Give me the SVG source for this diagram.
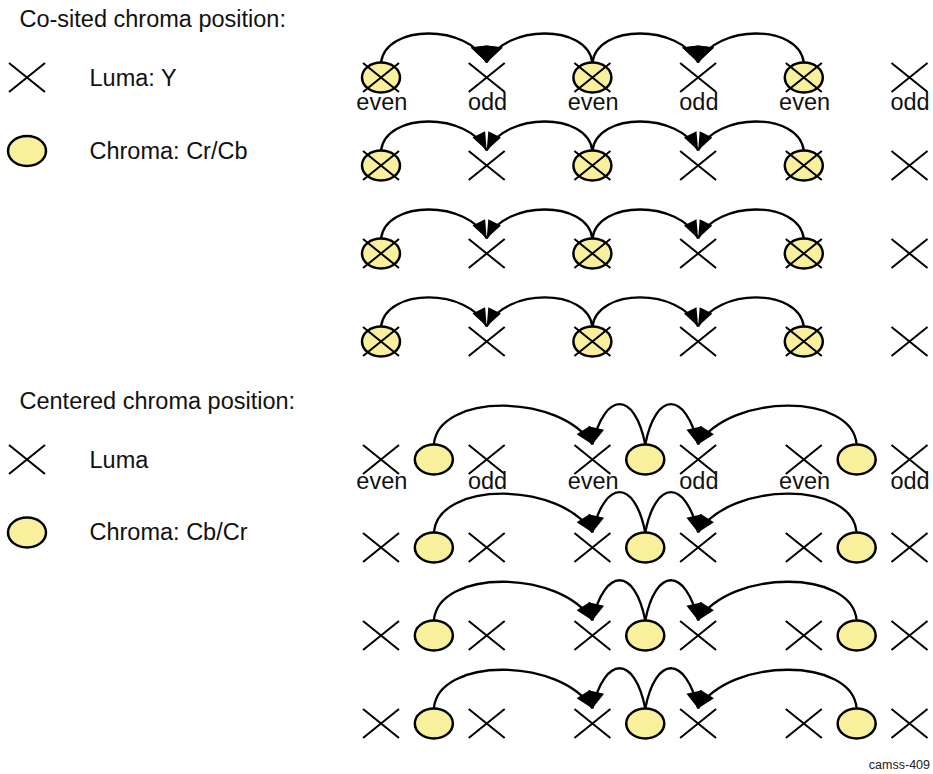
<svg xmlns="http://www.w3.org/2000/svg" width="933" height="774" viewBox="0 0 933 774">
<style>
.xs{fill:none;stroke:#000;stroke-width:2}
.cs{fill:#f9f09d;stroke:#000;stroke-width:2.5}
.arc{fill:none;stroke:#000;stroke-width:2.3}
.big{marker-end:url(#ahBig)}
.sm{marker-end:url(#ahS)}
.ce{marker-end:url(#ahC)}
text{font-family:"Liberation Sans",Arial,Helvetica,sans-serif;font-size:23.5px;fill:#111}
.lbl{text-anchor:middle}
.id{font-size:12.5px;text-anchor:end;fill:#222}
</style>
<defs>
<path id="xm" class="xs" d="M-18,-14.5 L18,14.5 M18,-14.5 L-18,14.5"/>
<ellipse id="cm" class="cs" cx="0" cy="0" rx="19" ry="15"/>
<marker id="ahBig" viewBox="-20 -20 40 40" markerWidth="40" markerHeight="40" refX="0" refY="0" orient="90" markerUnits="userSpaceOnUse"><path d="M0,0 L-15,-16 L-17,0 L-15,16 Z" fill="#000"/></marker>
<marker id="ahS" viewBox="-20 -20 40 40" markerWidth="40" markerHeight="40" refX="0" refY="0" orient="auto" markerUnits="userSpaceOnUse"><path d="M0,0 L-18,-7 L-18,7 Z" fill="#000"/></marker>
<marker id="ahC" viewBox="-20 -20 40 40" markerWidth="40" markerHeight="40" refX="0" refY="0" orient="auto" markerUnits="userSpaceOnUse"><path d="M0,0 L-17,-8 L-17,8 Z" fill="#000"/></marker>
</defs>

<g id="legend">
<text x="19.5" y="26.5">Co-sited chroma position:</text>
<g id="leg-luma1"><use href="#xm" x="27" y="77.5"/><text x="89.5" y="86">Luma: Y</text></g>
<g id="leg-chroma1"><use href="#cm" x="27" y="151"/><text x="89.5" y="158.5">Chroma: Cr/Cb</text></g>
<text x="19.5" y="408.5">Centered chroma position:</text>
<g id="leg-luma2"><use href="#xm" x="27" y="459.5"/><text x="89.5" y="467.5">Luma</text></g>
<g id="leg-chroma2"><use href="#cm" x="27" y="532.5"/><text x="89.5" y="540">Chroma: Cb/Cr</text></g>
</g>

<g id="connectors">
<path class="arc big" d="M381,62.5 C386,23.8 467.8,23.8 486.7,62.5"/>
<path class="arc big" d="M592.4,62.5 C587.4,23.8 505.6,23.8 486.7,62.5"/>
<path class="arc big" d="M592.4,62.5 C597.4,23.8 679.2,23.8 698.1,62.5"/>
<path class="arc big" d="M803.8,62.5 C798.8,23.8 717,23.8 698.1,62.5"/>
<path class="arc sm" d="M381,150.5 C386,111.8 467.8,111.8 486.7,150.5"/>
<path class="arc sm" d="M592.4,150.5 C587.4,111.8 505.6,111.8 486.7,150.5"/>
<path class="arc sm" d="M592.4,150.5 C597.4,111.8 679.2,111.8 698.1,150.5"/>
<path class="arc sm" d="M803.8,150.5 C798.8,111.8 717,111.8 698.1,150.5"/>
<path class="arc sm" d="M381,238.5 C386,199.8 467.8,199.8 486.7,238.5"/>
<path class="arc sm" d="M592.4,238.5 C587.4,199.8 505.6,199.8 486.7,238.5"/>
<path class="arc sm" d="M592.4,238.5 C597.4,199.8 679.2,199.8 698.1,238.5"/>
<path class="arc sm" d="M803.8,238.5 C798.8,199.8 717,199.8 698.1,238.5"/>
<path class="arc sm" d="M381,326.5 C386,287.8 467.8,287.8 486.7,326.5"/>
<path class="arc sm" d="M592.4,326.5 C587.4,287.8 505.6,287.8 486.7,326.5"/>
<path class="arc sm" d="M592.4,326.5 C597.4,287.8 679.2,287.8 698.1,326.5"/>
<path class="arc sm" d="M803.8,326.5 C798.8,287.8 717,287.8 698.1,326.5"/>
<path class="arc ce" d="M433.85,444.5 C437.85,392.8 560,392.8 592.4,444.5"/>
<path class="arc ce" d="M645.25,444.5 C634.75,390.8 604.9,390.8 592.4,444.5"/>
<path class="arc ce" d="M645.25,444.5 C655.75,390.8 685.6,390.8 698.1,444.5"/>
<path class="arc ce" d="M856.65,444.5 C852.65,392.8 730.5,392.8 698.1,444.5"/>
<path class="arc ce" d="M433.85,532.5 C437.85,480.8 560,480.8 592.4,532.5"/>
<path class="arc ce" d="M645.25,532.5 C634.75,478.8 604.9,478.8 592.4,532.5"/>
<path class="arc ce" d="M645.25,532.5 C655.75,478.8 685.6,478.8 698.1,532.5"/>
<path class="arc ce" d="M856.65,532.5 C852.65,480.8 730.5,480.8 698.1,532.5"/>
<path class="arc ce" d="M433.85,620.5 C437.85,568.8 560,568.8 592.4,620.5"/>
<path class="arc ce" d="M645.25,620.5 C634.75,566.8 604.9,566.8 592.4,620.5"/>
<path class="arc ce" d="M645.25,620.5 C655.75,566.8 685.6,566.8 698.1,620.5"/>
<path class="arc ce" d="M856.65,620.5 C852.65,568.8 730.5,568.8 698.1,620.5"/>
<path class="arc ce" d="M433.85,708.5 C437.85,656.8 560,656.8 592.4,708.5"/>
<path class="arc ce" d="M645.25,708.5 C634.75,654.8 604.9,654.8 592.4,708.5"/>
<path class="arc ce" d="M645.25,708.5 C655.75,654.8 685.6,654.8 698.1,708.5"/>
<path class="arc ce" d="M856.65,708.5 C852.65,656.8 730.5,656.8 698.1,708.5"/>
</g>

<g id="cosited">
<g id="cs1-0"><use href="#cm" x="381" y="77.5"/><use href="#xm" x="381" y="77.5"/></g>
<g id="cs1-1"><use href="#xm" x="486.7" y="77.5"/></g>
<g id="cs1-2"><use href="#cm" x="592.4" y="77.5"/><use href="#xm" x="592.4" y="77.5"/></g>
<g id="cs1-3"><use href="#xm" x="698.1" y="77.5"/></g>
<g id="cs1-4"><use href="#cm" x="803.8" y="77.5"/><use href="#xm" x="803.8" y="77.5"/></g>
<g id="cs1-5"><use href="#xm" x="909.5" y="77.5"/></g>
<g id="cs1-labels">
<text class="lbl" x="381.8" y="109.5">even</text>
<text class="lbl" x="487.5" y="109.5">odd</text>
<text class="lbl" x="593.2" y="109.5">even</text>
<text class="lbl" x="698.9" y="109.5">odd</text>
<text class="lbl" x="804.6" y="109.5">even</text>
<text class="lbl" x="910" y="109.5">odd</text>
</g>
<g id="cs2-0"><use href="#cm" x="381" y="165.5"/><use href="#xm" x="381" y="165.5"/></g>
<g id="cs2-1"><use href="#xm" x="486.7" y="165.5"/></g>
<g id="cs2-2"><use href="#cm" x="592.4" y="165.5"/><use href="#xm" x="592.4" y="165.5"/></g>
<g id="cs2-3"><use href="#xm" x="698.1" y="165.5"/></g>
<g id="cs2-4"><use href="#cm" x="803.8" y="165.5"/><use href="#xm" x="803.8" y="165.5"/></g>
<g id="cs2-5"><use href="#xm" x="909.5" y="165.5"/></g>
<g id="cs3-0"><use href="#cm" x="381" y="253.5"/><use href="#xm" x="381" y="253.5"/></g>
<g id="cs3-1"><use href="#xm" x="486.7" y="253.5"/></g>
<g id="cs3-2"><use href="#cm" x="592.4" y="253.5"/><use href="#xm" x="592.4" y="253.5"/></g>
<g id="cs3-3"><use href="#xm" x="698.1" y="253.5"/></g>
<g id="cs3-4"><use href="#cm" x="803.8" y="253.5"/><use href="#xm" x="803.8" y="253.5"/></g>
<g id="cs3-5"><use href="#xm" x="909.5" y="253.5"/></g>
<g id="cs4-0"><use href="#cm" x="381" y="341.5"/><use href="#xm" x="381" y="341.5"/></g>
<g id="cs4-1"><use href="#xm" x="486.7" y="341.5"/></g>
<g id="cs4-2"><use href="#cm" x="592.4" y="341.5"/><use href="#xm" x="592.4" y="341.5"/></g>
<g id="cs4-3"><use href="#xm" x="698.1" y="341.5"/></g>
<g id="cs4-4"><use href="#cm" x="803.8" y="341.5"/><use href="#xm" x="803.8" y="341.5"/></g>
<g id="cs4-5"><use href="#xm" x="909.5" y="341.5"/></g>
</g>

<g id="centered">
<g id="ce1-y0"><use href="#xm" x="381" y="459.5"/></g>
<g id="ce1-c0"><use href="#cm" x="433.85" y="459.5"/></g>
<g id="ce1-y1"><use href="#xm" x="486.7" y="459.5"/></g>
<g id="ce1-y2"><use href="#xm" x="592.4" y="459.5"/></g>
<g id="ce1-c1"><use href="#cm" x="645.25" y="459.5"/></g>
<g id="ce1-y3"><use href="#xm" x="698.1" y="459.5"/></g>
<g id="ce1-y4"><use href="#xm" x="803.8" y="459.5"/></g>
<g id="ce1-c2"><use href="#cm" x="856.65" y="459.5"/></g>
<g id="ce1-y5"><use href="#xm" x="909.5" y="459.5"/></g>
<g id="ce1-labels">
<text class="lbl" x="381.8" y="489">even</text>
<text class="lbl" x="487.5" y="489">odd</text>
<text class="lbl" x="593.2" y="489">even</text>
<text class="lbl" x="698.9" y="489">odd</text>
<text class="lbl" x="804.6" y="489">even</text>
<text class="lbl" x="910" y="489">odd</text>
</g>
<g id="ce2-y0"><use href="#xm" x="381" y="547.5"/></g>
<g id="ce2-c0"><use href="#cm" x="433.85" y="547.5"/></g>
<g id="ce2-y1"><use href="#xm" x="486.7" y="547.5"/></g>
<g id="ce2-y2"><use href="#xm" x="592.4" y="547.5"/></g>
<g id="ce2-c1"><use href="#cm" x="645.25" y="547.5"/></g>
<g id="ce2-y3"><use href="#xm" x="698.1" y="547.5"/></g>
<g id="ce2-y4"><use href="#xm" x="803.8" y="547.5"/></g>
<g id="ce2-c2"><use href="#cm" x="856.65" y="547.5"/></g>
<g id="ce2-y5"><use href="#xm" x="909.5" y="547.5"/></g>
<g id="ce3-y0"><use href="#xm" x="381" y="635.5"/></g>
<g id="ce3-c0"><use href="#cm" x="433.85" y="635.5"/></g>
<g id="ce3-y1"><use href="#xm" x="486.7" y="635.5"/></g>
<g id="ce3-y2"><use href="#xm" x="592.4" y="635.5"/></g>
<g id="ce3-c1"><use href="#cm" x="645.25" y="635.5"/></g>
<g id="ce3-y3"><use href="#xm" x="698.1" y="635.5"/></g>
<g id="ce3-y4"><use href="#xm" x="803.8" y="635.5"/></g>
<g id="ce3-c2"><use href="#cm" x="856.65" y="635.5"/></g>
<g id="ce3-y5"><use href="#xm" x="909.5" y="635.5"/></g>
<g id="ce4-y0"><use href="#xm" x="381" y="723.5"/></g>
<g id="ce4-c0"><use href="#cm" x="433.85" y="723.5"/></g>
<g id="ce4-y1"><use href="#xm" x="486.7" y="723.5"/></g>
<g id="ce4-y2"><use href="#xm" x="592.4" y="723.5"/></g>
<g id="ce4-c1"><use href="#cm" x="645.25" y="723.5"/></g>
<g id="ce4-y3"><use href="#xm" x="698.1" y="723.5"/></g>
<g id="ce4-y4"><use href="#xm" x="803.8" y="723.5"/></g>
<g id="ce4-c2"><use href="#cm" x="856.65" y="723.5"/></g>
<g id="ce4-y5"><use href="#xm" x="909.5" y="723.5"/></g>
</g>

<text class="id" x="930" y="769">camss-409</text>
</svg>
